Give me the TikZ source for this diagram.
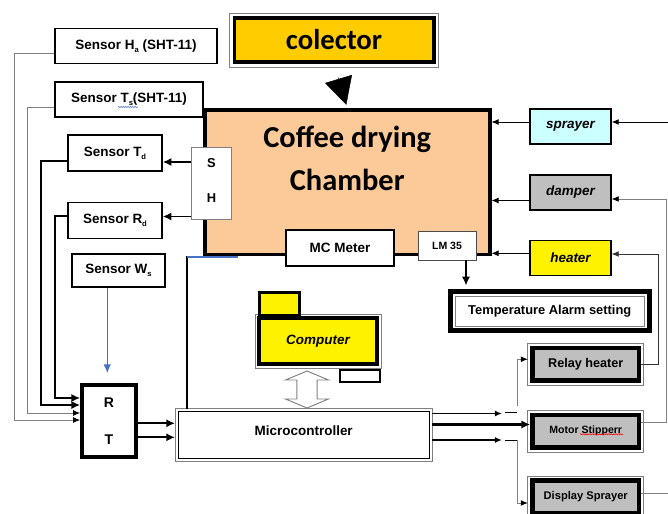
\documentclass[tikz,border=0pt]{standalone}
\usepackage{fontspec}
\setmainfont{Liberation Sans}
\newfontfamily\calfont{Carlito}
\usetikzlibrary{arrows.meta,decorations.pathmorphing}
\definecolor{chamberorange}{RGB}{252,201,153}
\definecolor{colgold}{RGB}{255,204,0}
\definecolor{sprayblue}{RGB}{204,255,255}
\definecolor{boxgray}{RGB}{191,191,191}
\definecolor{linkblue}{RGB}{68,114,196}
\newcommand{\lowsub}[1]{\raisebox{-0.45ex}{\fontsize{6.5}{7}\selectfont #1}}

\begin{document}
\begin{tikzpicture}
  [x=0.03cm,y=-0.03cm,>={Latex[length=6pt,width=5pt]},
  every node/.style={font=\bfseries\fontsize{11.5}{13}\selectfont},
  sensor/.style={draw,line width=1.2pt,inner sep=0pt,minimum height=1.05cm},
  actuator/.style={draw,line width=1.2pt,inner sep=0pt,minimum width=2.43cm,minimum height=1.05cm,
    font=\bfseries\itshape\fontsize{11.5}{13}\selectfont},
  output/.style={draw,line width=3.8pt,fill=boxgray,inner sep=0pt,minimum width=3.2cm,minimum height=0.975cm},
  frame/.style={draw=gray,line width=0.7pt},
  wire/.style={line width=0.7pt},
  gray wire/.style={wire,draw=gray,-{Latex[length=6pt,width=5pt,color=black]}},
  bold wire/.style={line width=1.5pt,-{Latex[length=7.5pt,width=7pt]}},
  blue wire/.style={line width=1.2pt,draw=linkblue,-{Latex[length=7.5pt,width=6.5pt]}},
  spell/.style={decorate,decoration={snake,amplitude=0.4pt,segment length=2pt},line width=0.5pt}]
  \clip (0,0) rectangle (668,514);
  \node [sensor,minimum width=4.86cm] (ha) at (136,46) {Sensor H\lowsub{a} (SHT-11)};
  \node [sensor,minimum width=4.44cm] (ts) at (129,99.5) {Sensor T\lowsub{s}(SHT-11)};
  \node [sensor,minimum width=2.82cm,minimum height=1.08cm] (td) at (115,153) {Sensor T\lowsub{d}};
  \node [sensor,minimum width=2.82cm,minimum height=1.08cm] (rd) at (115,220.5) {Sensor R\lowsub{d}};
  \node [sensor,minimum width=2.79cm,minimum height=0.99cm] (ws) at (118.5,270.5) {Sensor W\lowsub{s}};
  \node [draw,line width=3.2pt,minimum width=1.62cm,minimum height=2.16cm,align=center,
    font=\bfseries\fontsize{12}{32}\selectfont] (rt) at (109,421) {R\\T};

  \node [draw,line width=3.4pt,fill=chamberorange,minimum width=8.535cm,minimum height=4.335cm] (chamber) at (347.25,182.25) {};
  \node [font=\calfont\bfseries\fontsize{26}{37}\selectfont,align=center,inner sep=0pt,anchor=north]
    (title) at ([shift={(0,18)}]chamber.north) {Coffee drying\\Chamber};
  \node [draw=gray,line width=1pt,fill=white,minimum width=1.2cm,minimum height=2.16cm,align=center,
    text depth=5pt,font=\bfseries\fontsize{11}{30}\selectfont] (sh) at (211.5,183.5) {S\\H};
  \node [draw,line width=1.2pt,fill=white,minimum width=3.24cm,minimum height=1.08cm] (mc) at (340,248) {MC Meter};
  \node [draw=black!70,line width=0.8pt,fill=white,minimum width=1.74cm,minimum height=0.87cm,
    font=\bfseries\fontsize{9}{10}\selectfont] (lm) at (447,245.5) {LM 35};
  \node [draw,line width=4.2pt,minimum width=5.96cm,minimum height=1.17cm,
    font=\bfseries\fontsize{11}{13}\selectfont] (alarm) at (549.75,311) {Temperature Alarm setting};
  \node [draw,line width=3.4pt,fill=colgold,minimum width=5.97cm,minimum height=1.32cm,
    font=\calfont\bfseries\fontsize{24.5}{30}\selectfont] (col) at (334,40) {colector};

  \node [actuator,fill=sprayblue] (spr) at (570.5,126.5) {sprayer};
  \node [actuator,fill=boxgray] (dmp) at (570.5,192.5) {damper};
  \node [actuator,fill=yellow] (htr) at (570.5,258) {heater};
  \node [output,font=\bfseries\fontsize{10.8}{13}\selectfont] (relay) at (585.75,364.25) {Relay heater};
  \node [output,font=\bfseries\fontsize{9}{11}\selectfont] (motor) at (585.75,431.25) {Motor Stipperr};
  \node [output,font=\bfseries\fontsize{9.5}{11}\selectfont] (disp) at (585.75,496.75) {Display Sprayer};

  \node [draw,line width=0.8pt,minimum width=7.52cm,minimum height=1.4cm,text depth=7pt] (micro) at (303.7,435) {Microcontroller};
  \node [draw,line width=3.5pt,fill=yellow,minimum width=3.56cm,minimum height=1.4cm,
    font=\bfseries\itshape\fontsize{11.5}{13}\selectfont] (comp) at (318,341) {Computer};
  \node [draw,line width=1.5pt,fill=white,minimum width=1.2cm,minimum height=0.36cm] (stand) at (360,376) {};

  \foreach \n/\a/\b in {col/-3/3,comp/-1.7/1.7,relay/-2.3/2.3,motor/-2.3/2.3,disp/-2.3/2.3,micro/-2.8/2.8,alarm/7/-7}
    \draw [frame] ([shift={(\a,\a)}]\n.north west) rectangle ([shift={(\b,\b)}]\n.south east);
  \node [draw,line width=2.5pt,fill=yellow,minimum width=1.2cm,minimum height=0.7cm] (tab) at (279.5,304) {};

  \coordinate (link) at (307,389.5);
  \draw [gray,line width=0.8pt,fill=white] ([shift={(0,-18.5)}]link) -- ++(21.5,9) -- ++(-11.3,0) -- ++(0,19)
    -- ++(11.3,0) -- ++(-21.5,9) -- ++(-21.5,-9) -- ++(11.3,0) -- ++(0,-19) -- ++(-11.3,0) -- cycle;

  \draw [-{Triangle[width=0.84cm,length=0.81cm]},shorten <=0.42cm,shorten >=0.1cm] (col.south) -- (chamber.north);

  \draw [gray wire] ([shift={(0,7)}]ha.west) -- ++(-40,0) |- ([shift={(0,-1)}]rt.west);
  \draw [gray wire] ([shift={(0,7.5)}]ts.west) -- ++(-27.3,0) |- ([shift={(0,-8)}]rt.west);
  \draw [bold wire] ([shift={(0,8)}]td.west) -- ++(-26.3,0) |- ([shift={(0,-16)}]rt.west);
  \draw [bold wire] ([shift={(0,-4.5)}]rd.west) -- ++(-12.3,0) |- ([shift={(0,-23)}]rt.west);

  \coordinate (sht) at ([shift={(0,-21.5)}]sh.west);
  \coordinate (shr) at ([shift={(0,33)}]sh.west);
  \draw [bold wire] (sht) -- (sht -| td.east);
  \draw [bold wire] (shr) -- (shr -| rd.east);

  \coordinate (wso) at ([shift={(-11.2,0)}]ws.south);
  \draw [blue wire,shorten >=8.5pt] (wso) -- (wso |- rt.north);

  \coordinate (rt1) at ([shift={(0,2.3)}]rt.east);
  \coordinate (rt2) at ([shift={(0,16.3)}]rt.east);
  \draw [bold wire,shorten >=2.4pt] (rt1) -- (rt1 -| micro.west);
  \draw [bold wire,shorten >=2.4pt] (rt2) -- (rt2 -| micro.west);

  \coordinate (mt) at ([shift={(-116.7,-2.5)}]micro.north);
  \draw [line width=1.5pt] (mt) -- (mt |- chamber.south) coordinate (cb);
  \draw [line width=1.5pt,draw=linkblue] ([shift={(0,0.5)}]cb) -- ++(51,0);

  \coordinate (lmo) at ([shift={(19,0)}]lm.south);
  \draw [bold wire,shorten >=3pt] (lmo) -- (lmo |- alarm.north);

  \foreach \n/\d in {spr/-4.5,dmp/8,htr/-4.7} {
    \coordinate (\n in) at ([shift={(0,\d)}]\n.west);
    \draw [wire,->] (\n in) -- (\n in -| chamber.east);
  }
  \draw [wire,<-] ([shift={(0,-4.5)}]spr.east) -- ++(60,0);
  \draw [gray wire] ([shift={(0,-9)}]motor.east) -- ++(25.5,0) |- ([shift={(0,6.5)}]dmp.east);
  \draw [wire,draw=black!80,->] (relay.east) -- ++(17.5,0) |- ([shift={(0,-4)}]htr.east);
  \draw [wire,draw=gray] ([shift={(0,-3)}]disp.east) -- ++(30,0);

  \coordinate (m1) at ([shift={(2.5,-21.5)}]micro.east);
  \coordinate (m2) at ([shift={(2.5,-10.5)}]micro.east);
  \coordinate (m3) at ([shift={(2.5,5)}]micro.east);
  \draw [line width=1.2pt,->] (m1) -- ++(70,0) coordinate (j1);
  \draw [bold wire,line width=1.8pt] (m2) -- (m2 -| motor.west);
  \draw [line width=1.2pt,->] (m3) -- ++(70,0) coordinate (j3);
  \draw [wire] ([shift={(3,-1)}]j1) -- ++(12,0);
  \draw [gray wire,shorten >=2pt] (j1) ++(15,-7) |- ([shift={(0,-5)}]relay.west);
  \draw [wire] ([shift={(3,0)}]j3) -- ++(12,0);
  \draw [gray wire,shorten >=2pt] (j3) ++(15,0) |- ([shift={(0,6.25)}]disp.west);

  \draw [spell,draw=linkblue] ([shift={(-11,7.5)}]ts.center) -- ++(20,0);
  \draw [spell,draw=red] ([shift={(-5.75,3)}]motor.center) -- ++(43,0);
\end{tikzpicture}
\end{document}
